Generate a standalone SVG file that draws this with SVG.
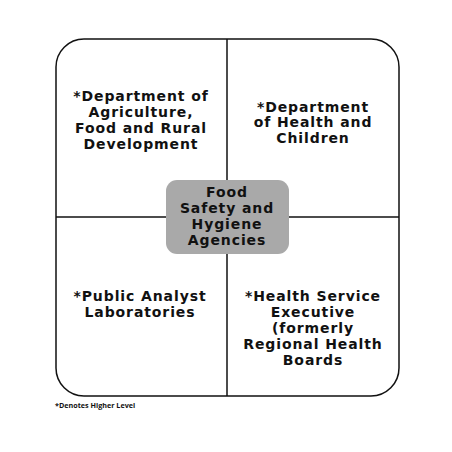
<svg xmlns="http://www.w3.org/2000/svg" width="452" height="452" viewBox="0 0 452 452">
<style>
.t{font-family:"DejaVu Sans","Liberation Sans",sans-serif;font-weight:bold;font-size:14px;letter-spacing:0.9px;fill:#111;text-anchor:middle}
.ln{stroke:#111;stroke-width:1.5;fill:none}
.note{font-family:"Open Sans","Liberation Sans",sans-serif;font-weight:bold;font-size:7.2px;fill:#111}
</style>
<rect width="452" height="452" fill="#fff"/>
<g id="connectors">
<rect class="ln" x="56" y="39" width="343" height="357" rx="28" ry="28"/>
<line class="ln" x1="227" y1="39" x2="227" y2="396"/>
<line class="ln" x1="56" y1="217" x2="399" y2="217"/>
</g>
<g id="center">
<rect x="166" y="180" width="123" height="74" rx="11" ry="11" fill="#a9a9a9"/>
<text class="t" x="227" y="197">Food</text>
<text class="t" x="227" y="213">Safety and</text>
<text class="t" x="227" y="229">Hygiene</text>
<text class="t" x="227" y="245">Agencies</text>
</g>
<g id="agriculture">
<text class="t" x="141" y="101">*Department of</text>
<text class="t" x="141" y="117">Agriculture,</text>
<text class="t" x="141" y="133">Food and Rural</text>
<text class="t" x="141" y="149">Development</text>
</g>
<g id="health">
<text class="t" x="313" y="112">*Department</text>
<text class="t" x="313" y="127">of Health and</text>
<text class="t" x="313" y="143">Children</text>
</g>
<g id="analyst">
<text class="t" x="140" y="301">*Public Analyst</text>
<text class="t" x="140" y="317">Laboratories</text>
</g>
<g id="hse">
<text class="t" x="313" y="301">*Health Service</text>
<text class="t" x="313" y="317">Executive</text>
<text class="t" x="313" y="333">(formerly</text>
<text class="t" x="313" y="349">Regional Health</text>
<text class="t" x="313" y="365">Boards</text>
</g>
<text class="note" x="55" y="408">*Denotes Higher Level</text>
</svg>
